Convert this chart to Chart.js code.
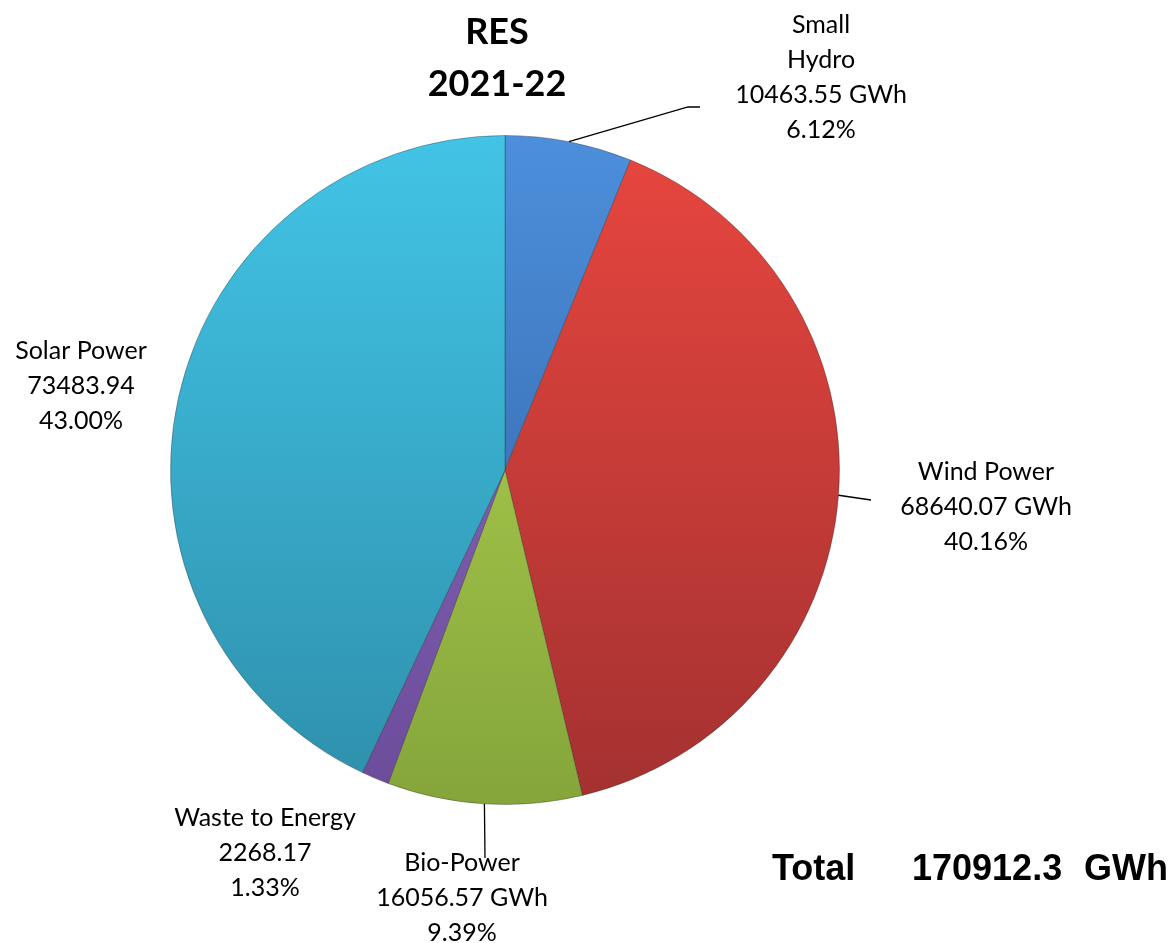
<!DOCTYPE html>
<html>
<head>
<meta charset="utf-8">
<script src="https://cdn.jsdelivr.net/npm/chart.js@4"></script>
<style>
  html, body { margin: 0; padding: 0; background: #fff; }
  #c { display: block; }
</style>
</head>
<body>
<canvas id="c" width="1175" height="943"></canvas>
<script>
// data
const sources = ['Small Hydro', 'Wind Power', 'Bio-Power', 'Waste to Energy', 'Solar Power'];
const generation = [10463.55, 68640.07, 16056.57, 2268.17, 73483.94];
const shares = ['6.12%', '40.16%', '9.39%', '1.33%', '43.00%'];
const labelLines = [
  ['Small', 'Hydro', '10463.55 GWh', '6.12%'],
  ['Wind Power', '68640.07 GWh', '40.16%'],
  ['Bio-Power', '16056.57 GWh', '9.39%'],
  ['Waste to Energy', '2268.17', '1.33%'],
  ['Solar Power', '73483.94', '43.00%']
];
const titleLines = ['RES', '2021-22'];
const totalText = ['Total', '170912.3', 'GWh'];

// light (top) -> dark (bottom) shades per slice
const topColors = ['#4d8fdc', '#e8463f', '#b6da52', '#8f6cc0', '#42c4e6'];
const bottomColors = ['#2d5f9e', '#a33130', '#85a53b', '#6b4c9a', '#2e8fab'];

// where each label block sits (x centre, y of first line) and leader line ends
const labelPos = [
  { x: 821, y: 24, leader: [[688, 107], [700, 107]] },
  { x: 986, y: 471, leader: [[871, 500]] },
  { x: 462, y: 862, leader: [[485, 858]] },
  { x: 265, y: 817, leader: null },
  { x: 81, y: 350, leader: null }
];

const FONT = 'Lato, "Noto Sans", sans-serif';

const labelsPlugin = {
  id: 'resLabels',
  afterDatasetsDraw(chart) {
    const ctx = chart.ctx;
    const arcs = chart.getDatasetMeta(0).data;
    ctx.save();
    // leader lines
    ctx.strokeStyle = '#000';
    ctx.lineWidth = 1.3;
    arcs.forEach((arc, i) => {
      const p = labelPos[i];
      if (!p.leader) return;
      const mid = (arc.startAngle + arc.endAngle) / 2;
      const sx = arc.x + Math.cos(mid) * arc.outerRadius;
      const sy = arc.y + Math.sin(mid) * arc.outerRadius;
      ctx.beginPath();
      ctx.moveTo(sx, sy);
      p.leader.forEach(pt => ctx.lineTo(pt[0], pt[1]));
      ctx.stroke();
    });
    // label text
    ctx.fillStyle = '#000';
    ctx.textAlign = 'center';
    ctx.textBaseline = 'alphabetic';
    ctx.font = '25px ' + FONT;
    labelLines.forEach((lines, i) => {
      const p = labelPos[i];
      lines.forEach((t, k) => ctx.fillText(t, p.x, p.y + 9 + k * 35));
    });
    // title
    ctx.font = 'bold 36px ' + FONT;
    ctx.fillText(titleLines[0], 497, 44);
    ctx.fillText(titleLines[1], 497, 96);
    // total
    ctx.textAlign = 'left';
    ctx.font = 'bold 36px "Liberation Sans", Arial, sans-serif';
    ctx.fillText(totalText[0], 772, 880);
    ctx.fillText(totalText[1], 912, 880);
    ctx.fillText(totalText[2], 1084, 880);
    ctx.restore();
  }
};

const chart = new Chart(document.getElementById('c'), {
  type: 'pie',
  data: {
    labels: sources,
    datasets: [{
      data: generation,
      backgroundColor: (c) => {
        const ca = c.chart.chartArea;
        const i = c.dataIndex;
        if (!ca) return topColors[i];
        const g = c.chart.ctx.createLinearGradient(0, ca.top, 0, ca.bottom);
        g.addColorStop(0, topColors[i]);
        g.addColorStop(1, bottomColors[i]);
        return g;
      },
      borderColor: 'rgba(40,40,40,0.35)',
      borderWidth: 1
    }]
  },
  options: {
    responsive: false,
    animation: false,
    layout: { padding: { left: 170, right: 335, top: 135, bottom: 138 } },
    plugins: {
      legend: { display: false },
      tooltip: { enabled: false },
      title: { display: false }
    }
  },
  plugins: [labelsPlugin]
});
</script>
</body>
</html>
